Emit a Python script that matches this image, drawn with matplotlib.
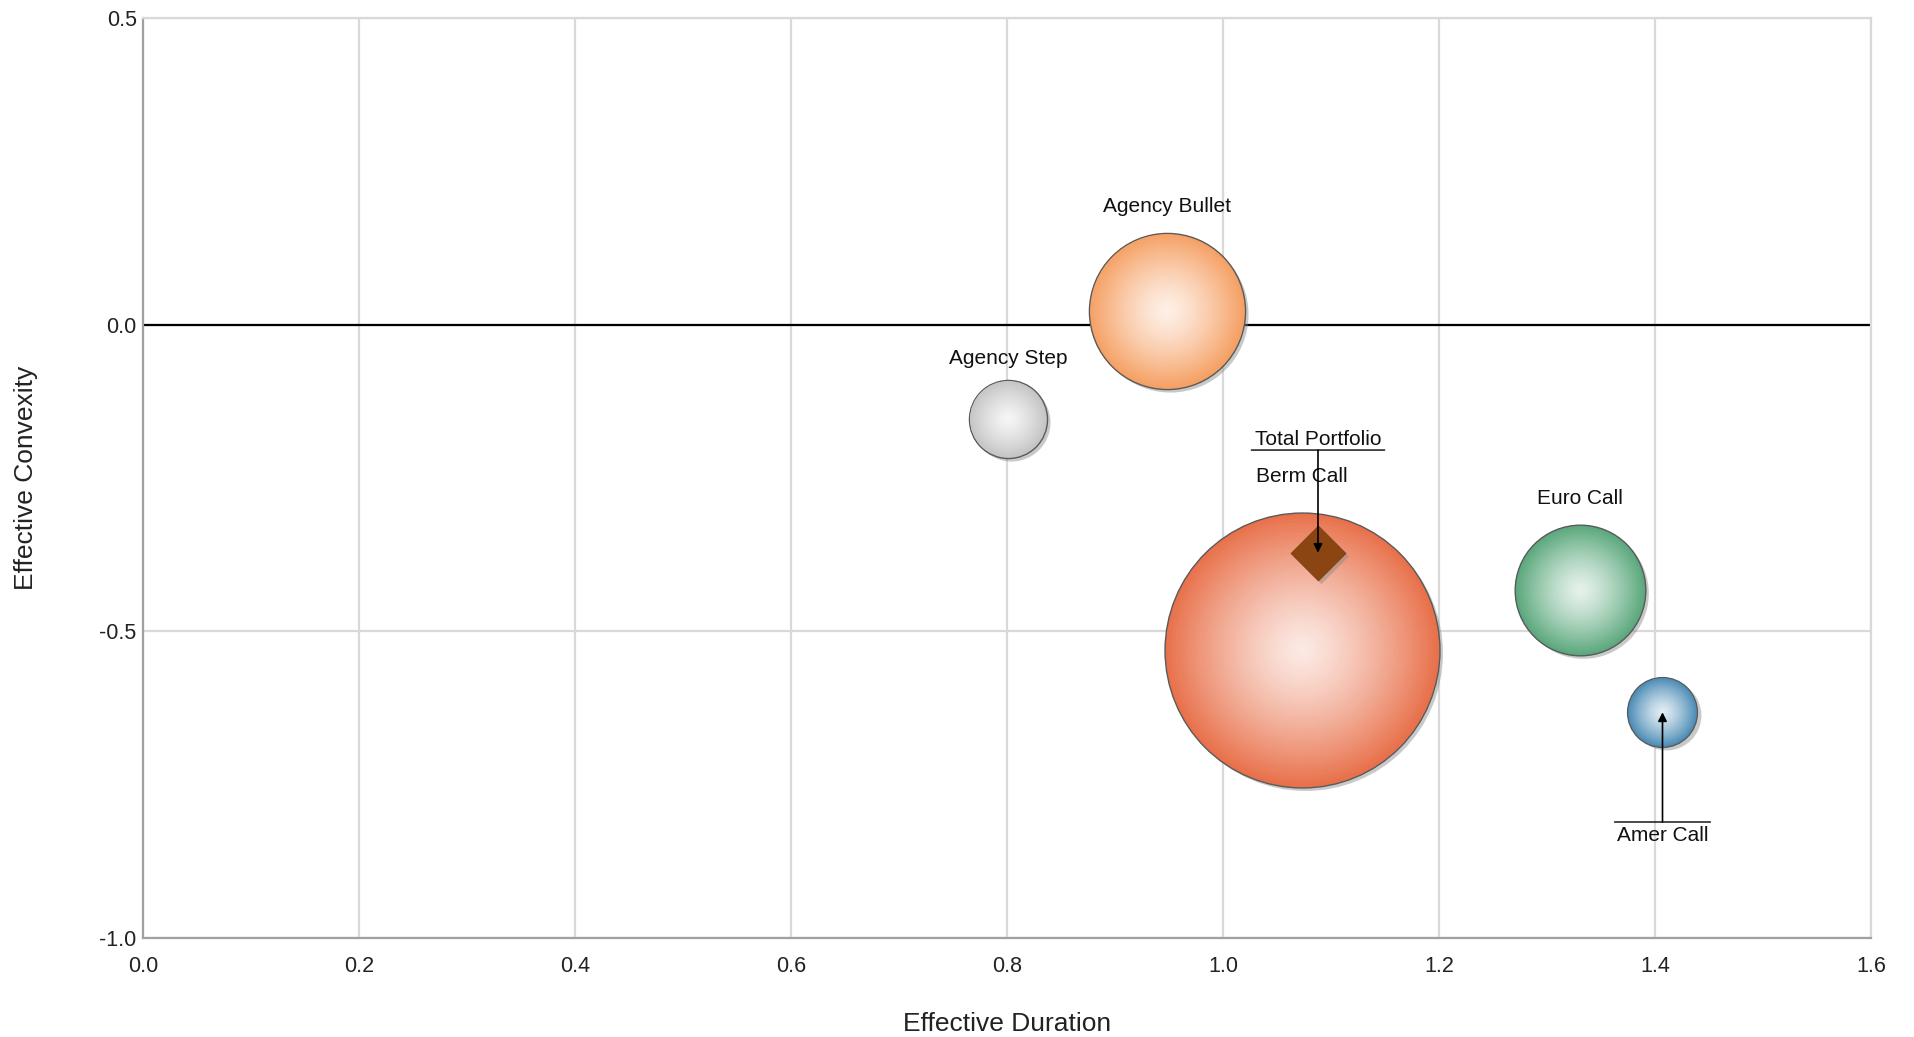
import matplotlib
matplotlib.use('agg')
import matplotlib.pyplot as plt
import matplotlib.transforms as mtransforms
import numpy as np
from matplotlib.colors import to_rgb

plt.rcParams['font.family'] = ['Liberation Sans', 'DejaVu Sans']

# bubble series
names     = ['Agency Bullet', 'Agency Step', 'Berm Call', 'Euro Call', 'Amer Call']
duration  = [0.948, 0.801, 1.073, 1.331, 1.407]
convexity = [0.023, -0.154, -0.530, -0.433, -0.632]
weight    = [20, 5, 62, 14, 4]

# total portfolio
total_name      = 'Total Portfolio'
total_duration  = 1.088
total_convexity = -0.372

xticks = [0.0, 0.2, 0.4, 0.6, 0.8, 1.0, 1.2, 1.4, 1.6]
yticks = [-1.0, -0.5, 0.0, 0.5]

# styles
edge_colors = ['#F5A064', '#C4C4C4', '#E8714B', '#5AA87C', '#4A8BB5']
label_gap   = [15, 11.5, 22, 15, None]   # points above bubble top, None = callout
size_per_w  = 632.0                      # points^2 per unit of weight
grid_col    = '#D9D9D9'

fig = plt.figure(figsize=(19.14, 10.37), dpi=100)
ax = fig.add_axes([0.0747, 0.0955, 0.9028, 0.8871])

ax.set_xlim(0, 1.6)
ax.set_ylim(-1.0, 0.5)
ax.set_xticks(xticks)
ax.set_yticks(yticks)
ax.set_xticklabels(['%.1f' % v for v in xticks])
ax.set_yticklabels(['%.1f' % v for v in yticks])
ax.grid(True, color=grid_col, lw=1.6, zorder=0)
ax.set_axisbelow(True)
ax.axhline(0, color='black', lw=1.6, zorder=1)

for side in ['top', 'right']:
    ax.spines[side].set_color(grid_col)
    ax.spines[side].set_linewidth(1.6)
for side in ['left', 'bottom']:
    ax.spines[side].set_color('#A0A0A0')
    ax.spines[side].set_linewidth(1.6)

ax.tick_params(axis='both', length=0, labelsize=15.5, colors='#222222')
ax.tick_params(axis='x', pad=13)
ax.tick_params(axis='y', pad=4.5)

ax.set_xlabel('Effective Duration', fontsize=19, color='#222222')
ax.xaxis.set_label_coords(0.5, -0.101)
ax.xaxis.label.set_va('baseline')
ax.set_ylabel('Effective Convexity', fontsize=19, color='#222222')
ax.yaxis.set_label_coords(-0.0675, 0.5)
ax.yaxis.label.set_va('center')

shadow = mtransforms.offset_copy(ax.transData, fig=fig, x=2.2, y=-2.2, units='points')

# bubbles with radial gradient
nlayers = 40
for i in range(len(names)):
    s = weight[i] * size_per_w
    edge = np.array(to_rgb(edge_colors[i]))
    centre = edge + (1 - edge) * 0.85
    ax.scatter([duration[i]], [convexity[i]], s=s, color='#888888', alpha=0.45,
               lw=0, transform=shadow, zorder=2)
    for k in range(nlayers):
        frac = 1 - k / nlayers
        col = centre + (edge - centre) * frac ** 1.3
        ax.scatter([duration[i]], [convexity[i]], s=s * frac ** 2, color=col,
                   edgecolors='#5A5A5A' if k == 0 else 'none',
                   linewidths=1.0 if k == 0 else 0, zorder=3)
    r_pt = np.sqrt(s) / 2
    if label_gap[i] is not None:
        ax.annotate(names[i], (duration[i], convexity[i]),
                    xytext=(0, r_pt + label_gap[i]), textcoords='offset points',
                    ha='center', va='baseline', fontsize=15, color='#111111', zorder=6)

# total portfolio diamond
dsize = 28 ** 2
ax.scatter([total_duration], [total_convexity], marker='D', s=dsize,
           color='#888888', alpha=0.45, lw=0, transform=shadow, zorder=4)
ax.scatter([total_duration], [total_convexity], marker='D', s=dsize,
           color='#8B4513', edgecolors='#7A3A0E', linewidths=0.5, zorder=5)


def callout(text, x, y, dy, half_w, text_pad):
    # arrow from underline to point
    ax.annotate('', xy=(x, y), xytext=(0, dy), textcoords='offset points',
                arrowprops=dict(arrowstyle='-|>', color='black', lw=1.2,
                                shrinkA=0, shrinkB=0, mutation_scale=13), zorder=7)
    uline = mtransforms.offset_copy(ax.transData, fig=fig, x=-half_w, y=dy, units='points')
    ax.annotate('', xy=(x, y), xycoords=uline, xytext=(2 * half_w, 0),
                textcoords='offset points',
                arrowprops=dict(arrowstyle='-', color='black', lw=1.0,
                                shrinkA=0, shrinkB=0), zorder=7)
    if dy > 0:
        ax.annotate(text, (x, y), xytext=(0, dy + text_pad), textcoords='offset points',
                    ha='center', va='baseline', fontsize=15, color='#111111', zorder=7)
    else:
        ax.annotate(text, (x, y), xytext=(0, dy - text_pad), textcoords='offset points',
                    ha='center', va='top', fontsize=15, color='#111111', zorder=7)


callout(total_name, total_duration, total_convexity, 74, 48, 3.6)
callout(names[4], duration[4], convexity[4], -79, 34.5, 3.0)

fig.savefig('out.png', dpi=100)
